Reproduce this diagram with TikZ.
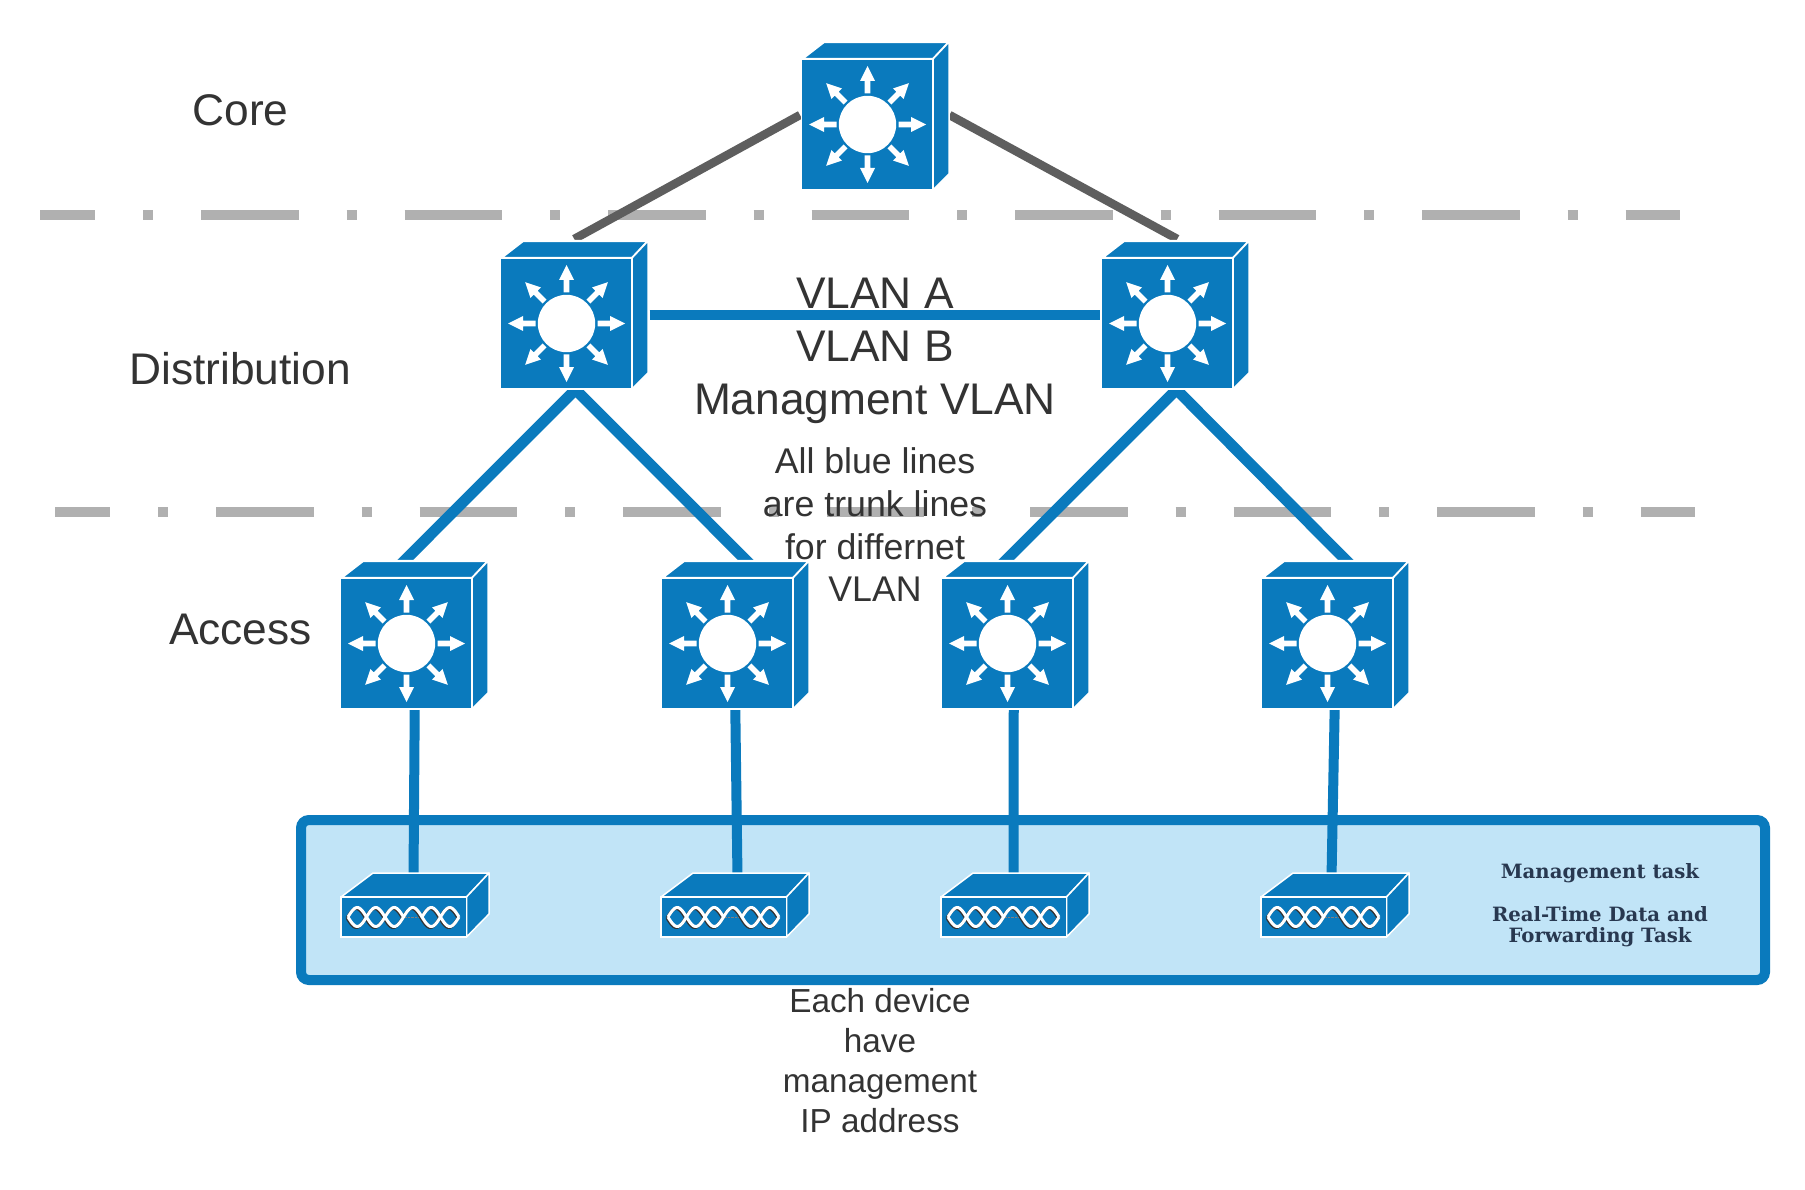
\documentclass[tikz,border=0pt]{standalone}
\usepackage{fontspec}
\usetikzlibrary{backgrounds}
\setmainfont{Liberation Sans}
\newfontfamily\mgmtfont{DejaVu Serif}
\definecolor{ciscoblue}{HTML}{0A7ABD}
\definecolor{boxfill}{HTML}{C1E4F7}
\definecolor{coregray}{HTML}{5E5E5E}
\definecolor{sepgray}{HTML}{B0B0B0}
\definecolor{inktext}{HTML}{333333}
\definecolor{mgmttext}{HTML}{283850}
\tikzset{
  facebox/.style={draw=white,line width=1.5pt,fill=ciscoblue,inner sep=0pt,outer sep=0pt,rectangle},
  solidface/.style={fill=ciscoblue,draw=white,line width=1.5pt,line join=round},
  switchpic/.pic={
    \draw[solidface,line width=2.2pt] (0,0) -- (22,-17) -- (147,-17) -- (131,0) -- cycle;
    \draw[solidface] (131,0) -- (147,-17) -- (147,115) -- (131,131) -- cycle;
    \node[facebox,minimum width=131.5pt,minimum height=131pt] (-f) at (65.25,65.5) {};
    \fill[white] (65.5,65.5) circle (28.7);
    \foreach \a in {0,45,...,315}{
      \fill[white,shift={(65.5,65.5)},rotate=\a] (31,-2.8) -- (43.5,-2.8) -- (43.5,-7.5) -- (58.5,0) -- (43.5,7.5) -- (43.5,2.8) -- (31,2.8) -- cycle;
    }
  },
  devicepic/.pic={
    \draw[solidface] (0,0) -- (32,-24) -- (148,-24) -- (125.5,0) -- cycle;
    \draw[solidface] (125.5,0) -- (148,-24) -- (148,17) -- (125.5,40) -- cycle;
    \node[facebox,minimum width=125.5pt,minimum height=40pt] (-f) at (62.75,20) {};
    \draw[gray,line width=.4pt,densely dotted] (64,20) -- (82,20);
    \foreach \dx/\dy/\col/\w in {-1/1/inktext/3,0/0/white/3}{
      \begin{scope}[shift={(\dx,\dy)},line width=\w pt,color=\col]
        \draw[domain=0:3,samples=50,smooth,variable=\t] plot ({7+18.5*\t},{20-9.5*sin(180*\t)});
        \draw[domain=4:6,samples=34,smooth,variable=\t] plot ({7+18.5*\t},{20-9.5*sin(180*\t)});
        \draw[domain=0:6,samples=90,smooth,variable=\t] plot ({7+18.5*\t},{20+9.5*sin(180*\t)});
      \end{scope}
    }
  },
  corelink/.style={draw=coregray,line width=8.5pt},
  trunk/.style={draw=ciscoblue,line width=10pt},
  slanted/.style={draw=ciscoblue,line width=11pt},
  seppat/.style={draw=sepgray,line width=10pt,dash pattern=on 97.5pt off 48pt on 10pt off 48pt,dash phase=42.5pt},
  bigtext/.style={font=\fontsize{44.3}{53.3}\selectfont,text=inktext,inner sep=0pt,align=center},
  midtext/.style={font=\fontsize{35.7}{42.7}\selectfont,text=inktext,inner sep=0pt,align=center},
  lowtext/.style={font=\fontsize{33.3}{40}\selectfont,text=inktext,inner sep=0pt,align=center},
  mgmtstyle/.style={font=\mgmtfont\bfseries\fontsize{19.7}{20.7}\selectfont,text=mgmttext,inner sep=0pt,align=center},
}
\begin{document}
\begin{tikzpicture}[x=1pt,y=-1pt]
\useasboundingbox (0,0) rectangle (1805,1190);
% switches
\pic (core) at (802,59) {switchpic};
\pic (distL) at (501,258) {switchpic};
\pic (distR) at (1102,258) {switchpic};
\pic (accA) at (341,578) {switchpic};
\pic (accB) at (662,578) {switchpic};
\pic (accC) at (942,578) {switchpic};
\pic (accD) at (1262,578) {switchpic};
% devices
\pic (devA) at (341,897) {devicepic};
\pic (devB) at (661,897) {devicepic};
\pic (devC) at (941,897) {devicepic};
\pic (devD) at (1261,897) {devicepic};
\begin{scope}[on background layer]
\fill[white] (0,0) rectangle (1805,1190);
% separators
\coordinate (sepAa) at (40,215);
\coordinate (sepAb) at (1680,215);
\coordinate (sepBa) at (55,512);
\coordinate (sepBb) at (1695,512);
\draw[seppat] (sepAa) -- (sepAb);
\draw[seppat] (sepBa) -- (sepBb);
% host band
\node[draw=ciscoblue,fill=boxfill,line width=10pt,rounded corners=8pt,minimum width=1464pt,minimum height=160pt,inner sep=0pt,outer sep=0pt] (band) at (1033,900) {};
% connectors
\draw[corelink] ([shift={(-1.5,-9.5)}]core-f.west) -- ([shift={(8,-19)}]distL-f.north);
\draw[corelink] ([shift={(16.5,-9.5)}]core-f.east) -- ([shift={(10,-19)}]distR-f.north);
\draw[trunk] ([shift={(17.5,-8.5)}]distL-f.east) -- ([shift={(-1.5,-8.5)}]distR-f.west);
\draw[slanted] ([shift={(9.2,.6)}]distL-f.south) -- ([shift={(-7,-12)}]accA-f.north);
\draw[slanted] ([shift={(9.2,.6)}]distL-f.south) -- ([shift={(24.5,-12)}]accB-f.north);
\draw[slanted] ([shift={(9.2,.6)}]distR-f.south) -- ([shift={(-7.2,-12)}]accC-f.north);
\draw[slanted] ([shift={(9.2,.6)}]distR-f.south) -- ([shift={(24.5,-12)}]accD-f.north);
\draw[trunk] ([shift={(8.5,-4)}]accA-f.south) -- ([shift={(9.75,-19)}]devA-f.north);
\draw[trunk] ([shift={(8,-4)}]accB-f.south) -- ([shift={(13.75,-19)}]devB-f.north);
\draw[trunk] ([shift={(6.5,-4)}]accC-f.south) -- ([shift={(9.75,-19)}]devC-f.north);
\draw[trunk] ([shift={(7.5,-4)}]accD-f.south) -- ([shift={(7.75,-19)}]devD-f.north);
\end{scope}
% labels
\node[bigtext] (lblCore) at (240.5,110) {Core};
\node[bigtext] (lblDist) at (240,369) {Distribution};
\node[bigtext] (lblAcc) at (240.5,629) {Access};
\node[bigtext] (lblVlan) at (875,351) {VLAN A\\VLAN B\\Managment VLAN};
\node[midtext] (lblTrunk) at (875,525) {All blue lines\\are trunk lines\\for differnet\\VLAN};
\node[lowtext] (lblEach) at (880,1061) {Each device\\have\\management\\IP address};
\node[mgmtstyle] (lblMgmt) at (1600,905.5) {Management task\\[22.3pt]Real-Time Data and\\Forwarding Task};
\end{tikzpicture}
\end{document}
